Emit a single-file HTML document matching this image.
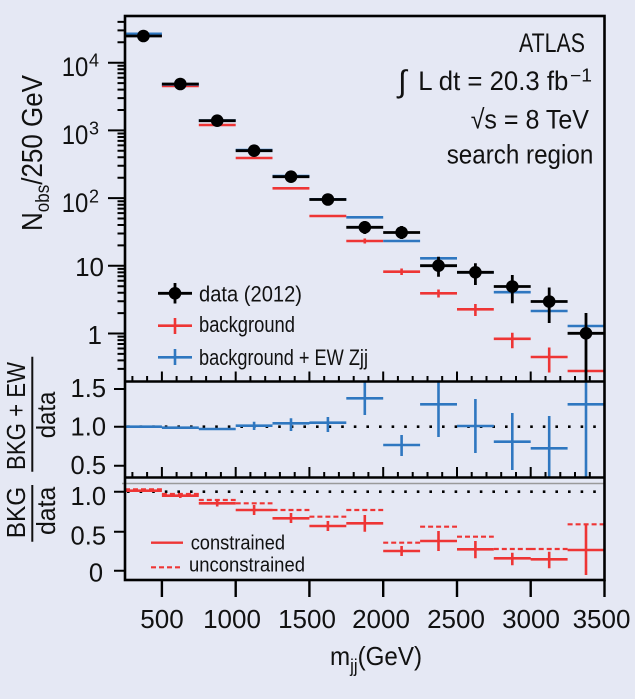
<!DOCTYPE html>
<html><head><meta charset="utf-8"><style>
html,body{margin:0;padding:0;background:#e5e8f4;}
svg{display:block;}
text{font-family:"Liberation Sans",sans-serif;fill:#111;}
</style></head><body>
<svg width="635" height="699" viewBox="0 0 635 699" xmlns="http://www.w3.org/2000/svg">
<rect width="635" height="699" fill="#e5e8f4"/>

<!-- gray line ratio2 -->
<path d="M122 483.5H604" stroke="#9a9a9a" stroke-width="1.5" fill="none"/>

<!-- dotted lines -->
<path d="M127 426.7H604 M127 491.7H604" stroke="#000" stroke-width="2.6" stroke-dasharray="2.6 10" fill="none"/>

<!-- main: red -->
<path d="M125 35.5H161.9 M161.9 86H198.8 M198.8 125H235.7 M235.7 158H272.5 M272.5 188.3H309.4 M309.4 216H346.3 M346.3 241H383.2 M383.2 271.7H420.1 M420.1 293.3H457 M457 309.3H493.8 M493.8 338.8H530.7 M530.7 357H567.6 M567.6 371H604.5 M364.8 238.5V243.5 M401.6 268.5V275 M438.5 289.5V297.5 M475.4 304V316 M512.3 332.7V348.3 M549.2 347.5V372.5" stroke="#ee3535" stroke-width="2.6" fill="none"/>
<!-- main: blue -->
<path d="M125 33.8H161.9 M161.9 84.5H198.8 M198.8 120.5H235.7 M235.7 150H272.5 M272.5 176H309.4 M309.4 199.3H346.3 M346.3 217.3H383.2 M383.2 241H420.1 M420.1 258.3H457 M457 272.3H493.8 M493.8 292.2H530.7 M530.7 311H567.6 M567.6 326H604.5" stroke="#2f77c0" stroke-width="2.6" fill="none"/>
<!-- main: black data -->
<path d="M125 36H161.9 M161.9 84H198.8 M198.8 120.7H235.7 M235.7 150.7H272.5 M272.5 176.7H309.4 M309.4 199.5H346.3 M346.3 227.3H383.2 M383.2 232.5H420.1 M420.1 265.7H457 M457 272.3H493.8 M493.8 286.5H530.7 M530.7 301.5H567.6 M567.6 333.3H604.5 M364.8 221V234 M401.6 226V239 M438.5 256.7V276.7 M475.4 263.3V285 M512.3 275V303.3 M549.2 287.5V323 M586 313V381" stroke="#000" stroke-width="2.8" fill="none"/>
<g fill="#000">
<circle cx="143.4" cy="36" r="6.3"/><circle cx="180.3" cy="84" r="6.3"/><circle cx="217.2" cy="120.7" r="6.3"/><circle cx="254.1" cy="150.7" r="6.3"/><circle cx="291" cy="176.7" r="6.3"/><circle cx="327.9" cy="199.5" r="6.3"/><circle cx="364.8" cy="227.3" r="6.3"/><circle cx="401.6" cy="232.5" r="6.3"/><circle cx="438.5" cy="265.7" r="6.3"/><circle cx="475.4" cy="272.3" r="6.3"/><circle cx="512.3" cy="286.5" r="6.3"/><circle cx="549.2" cy="301.5" r="6.3"/><circle cx="586" cy="333.3" r="6.3"/>
</g>

<!-- ratio1 blue -->
<path d="M125 426.7H161.9 M161.9 427.7H198.8 M198.8 429H235.7 M235.7 425.7H272.5 M272.5 423.3H309.4 M309.4 422.7H346.3 M346.3 398.3H383.2 M383.2 445H420.1 M420.1 404.3H457 M457 426H493.8 M493.8 441.7H530.7 M530.7 448.3H567.6 M567.6 404.3H604.5 M254.1 421.7V430 M291 418.3V431 M327.9 417V432 M364.8 382V415 M401.6 435V456 M438.5 382V437 M475.4 399V453 M512.3 413V470 M549.2 416V477 M586 382V477" stroke="#2f77c0" stroke-width="2.6" fill="none"/>

<!-- ratio2 red solid -->
<path d="M125 490.7H161.9 M161.9 495.7H198.8 M198.8 503.3H235.7 M235.7 510H272.5 M272.5 518.3H309.4 M309.4 526H346.3 M346.3 523.3H383.2 M383.2 551H420.1 M420.1 541H457 M457 549.3H493.8 M493.8 558.3H530.7 M530.7 559.3H567.6 M567.6 550H604.5 M180.3 493.5V498 M217.2 500V506.5 M254.1 505V515 M291 513V523 M327.9 521V531 M364.8 515V531.7 M401.6 546V556 M438.5 531V551 M475.4 541V558.3 M512.3 552.7V565.3 M549.2 551.7V568.3 M586 524.3V575" stroke="#ee3535" stroke-width="2.6" fill="none"/>
<!-- ratio2 red dashed -->
<path d="M125 489.3H161.9 M161.9 494H198.8 M198.8 500H235.7 M235.7 503.3H272.5 M272.5 510H309.4 M309.4 516.7H346.3 M346.3 510H383.2 M383.2 542.7H420.1 M420.1 526.7H457 M457 536.7H493.8 M493.8 549H530.7 M530.7 549H567.6 M567.6 524.3H604.5" stroke="#ee3535" stroke-width="2.2" stroke-dasharray="5 3" fill="none"/>

<!-- frame -->
<rect x="125" y="16" width="479.5" height="564" fill="none" stroke="#000" stroke-width="2.6"/>
<path d="M125 381.5H604.5 M125 477.5H604.5" stroke="#000" stroke-width="2.6" fill="none"/>

<!-- ticks -->
<g stroke="#000" stroke-width="2" fill="none">
<path d="M108 62.7H125 M108 130.4H125 M108 198.1H125 M108 265.8H125 M108 333.5H125"/>
<path d="M117.5 42.3H125 M117.5 30.4H125 M117.5 21.9H125
M117.5 110H125 M117.5 98.1H125 M117.5 89.6H125 M117.5 83.1H125 M117.5 77.7H125 M117.5 73.2H125 M117.5 69.3H125 M117.5 65.8H125
M117.5 177.7H125 M117.5 165.8H125 M117.5 157.3H125 M117.5 150.8H125 M117.5 145.4H125 M117.5 140.9H125 M117.5 137H125 M117.5 133.5H125
M117.5 245.4H125 M117.5 233.5H125 M117.5 225H125 M117.5 218.5H125 M117.5 213.1H125 M117.5 208.6H125 M117.5 204.7H125 M117.5 201.2H125
M117.5 313.1H125 M117.5 301.2H125 M117.5 292.7H125 M117.5 286.2H125 M117.5 280.8H125 M117.5 276.3H125 M117.5 272.4H125 M117.5 268.9H125
M117.5 368.9H125 M117.5 360.4H125 M117.5 353.9H125 M117.5 348.5H125 M117.5 344H125 M117.5 340.1H125 M117.5 336.6H125"/>
<path d="M114 389H125 M114 426.7H125 M114 465.7H125 M114 491.7H125 M114 531.7H125 M114 570.7H125"/>
<path d="M161.9 381.5V371.5 M235.7 381.5V371.5 M309.4 381.5V371.5 M383.2 381.5V371.5 M457 381.5V371.5 M530.7 381.5V371.5
M161.9 477.5V467 M235.7 477.5V467 M309.4 477.5V467 M383.2 477.5V467 M457 477.5V467 M530.7 477.5V467"/>
<path d="M132.4 381.5V376 M147.1 381.5V376 M176.6 381.5V376 M191.4 381.5V376 M206.1 381.5V376 M220.9 381.5V376 M250.4 381.5V376 M265.2 381.5V376 M279.9 381.5V376 M294.7 381.5V376 M324.2 381.5V376 M338.9 381.5V376 M353.7 381.5V376 M368.4 381.5V376 M397.9 381.5V376 M412.7 381.5V376 M427.5 381.5V376 M442.2 381.5V376 M471.7 381.5V376 M486.5 381.5V376 M501.2 381.5V376 M516 381.5V376 M545.5 381.5V376 M560.3 381.5V376 M575 381.5V376 M589.8 381.5V376
M132.4 477.5V472 M147.1 477.5V472 M176.6 477.5V472 M191.4 477.5V472 M206.1 477.5V472 M220.9 477.5V472 M250.4 477.5V472 M265.2 477.5V472 M279.9 477.5V472 M294.7 477.5V472 M324.2 477.5V472 M338.9 477.5V472 M353.7 477.5V472 M368.4 477.5V472 M397.9 477.5V472 M412.7 477.5V472 M427.5 477.5V472 M442.2 477.5V472 M471.7 477.5V472 M486.5 477.5V472 M501.2 477.5V472 M516 477.5V472 M545.5 477.5V472 M560.3 477.5V472 M575 477.5V472 M589.8 477.5V472"/>
<path d="M161.9 580V597 M235.7 580V597 M309.4 580V597 M383.2 580V597 M457 580V597 M530.7 580V597 M604.5 580V597" stroke-width="2.4"/>
</g>

<!-- y tick labels main -->
<text x="61.7" y="76" font-size="27" textLength="26.6" lengthAdjust="spacingAndGlyphs">10</text><text x="89" y="66.5" font-size="18">4</text>
<text x="61.7" y="144" font-size="27" textLength="26.6" lengthAdjust="spacingAndGlyphs">10</text><text x="89" y="134.5" font-size="18">3</text>
<text x="61.7" y="212" font-size="27" textLength="26.6" lengthAdjust="spacingAndGlyphs">10</text><text x="89" y="202.5" font-size="18">2</text>
<text x="104" y="276" font-size="26" text-anchor="end">10</text>
<text x="102" y="344" font-size="26" text-anchor="end">1</text>

<!-- ratio labels -->
<g font-size="25.5" text-anchor="end">
<text x="106" y="397">1.5</text>
<text x="106" y="435.5">1.0</text>
<text x="106" y="474">0.5</text>
<text x="106" y="505">1.0</text>
<text x="106" y="544.5">0.5</text>
<text x="103" y="581.5">0</text>
</g>

<!-- x tick labels -->
<g font-size="26" text-anchor="middle">
<text x="162" y="628">500</text>
<text x="232" y="628">1000</text>
<text x="307" y="628">1500</text>
<text x="381" y="628">2000</text>
<text x="456" y="628">2500</text>
<text x="531" y="628">3000</text>
<text x="601.5" y="628">3500</text>
</g>

<!-- x title -->
<text x="330" y="665" font-size="26" textLength="92" lengthAdjust="spacingAndGlyphs">m<tspan font-size="18" dy="7">jj</tspan><tspan dy="-7">(GeV)</tspan></text>

<!-- y title -->
<text transform="translate(42,231) rotate(-90)" x="0" y="0" font-size="29" textLength="156" lengthAdjust="spacingAndGlyphs">N<tspan font-size="19" dy="7">obs</tspan><tspan dy="-7">/250 GeV</tspan></text>

<!-- ratio titles -->
<text transform="translate(25,470) rotate(-90)" font-size="26" textLength="108" lengthAdjust="spacingAndGlyphs">BKG + EW</text>
<path d="M32.3 356.7V471.7 M32.3 485V541.7" stroke="#111" stroke-width="2"/>
<text transform="translate(55,438.3) rotate(-90)" font-size="26" textLength="46.7" lengthAdjust="spacingAndGlyphs">data</text>
<text transform="translate(25,538.3) rotate(-90)" font-size="26" textLength="51.6" lengthAdjust="spacingAndGlyphs">BKG</text>
<text transform="translate(55,535) rotate(-90)" font-size="26" textLength="48.3" lengthAdjust="spacingAndGlyphs">data</text>

<!-- ATLAS text block -->
<text x="519" y="52" font-size="27" textLength="66" lengthAdjust="spacingAndGlyphs">ATLAS</text>
<text x="398" y="92" font-size="31">∫</text>
<text x="418.3" y="90" font-size="27" textLength="150" lengthAdjust="spacingAndGlyphs">L dt = 20.3 fb</text>
<text x="570" y="81.7" font-size="18" textLength="22" lengthAdjust="spacingAndGlyphs">−1</text>
<text x="470.7" y="128.3" font-size="27" textLength="118.3" lengthAdjust="spacingAndGlyphs">√s = 8 TeV</text>
<text x="446.7" y="163.3" font-size="27" textLength="146.6" lengthAdjust="spacingAndGlyphs">search region</text>

<!-- main legend -->
<path d="M158 293.3H192 M175 283V303.5" stroke="#000" stroke-width="2.8"/>
<circle cx="175" cy="293.3" r="6.3" fill="#000"/>
<path d="M158 325.7H192 M175 318V334" stroke="#ee3535" stroke-width="2.6"/>
<path d="M158 357.3H192 M175 349V365" stroke="#2f77c0" stroke-width="2.6"/>
<text x="199" y="301.5" font-size="22" textLength="103" lengthAdjust="spacingAndGlyphs">data (2012)</text>
<text x="199" y="332" font-size="22" textLength="96" lengthAdjust="spacingAndGlyphs">background</text>
<text x="199" y="365" font-size="22" textLength="169" lengthAdjust="spacingAndGlyphs">background + EW Zjj</text>

<!-- ratio2 legend -->
<path d="M151 542.7H183" stroke="#ee3535" stroke-width="2.4"/>
<path d="M151 567.3H181" stroke="#ee3535" stroke-width="2.2" stroke-dasharray="5 3"/>
<text x="190.7" y="549.3" font-size="20" textLength="94.3" lengthAdjust="spacingAndGlyphs">constrained</text>
<text x="189" y="571.7" font-size="20" textLength="116" lengthAdjust="spacingAndGlyphs">unconstrained</text>
</svg>
</body></html>
